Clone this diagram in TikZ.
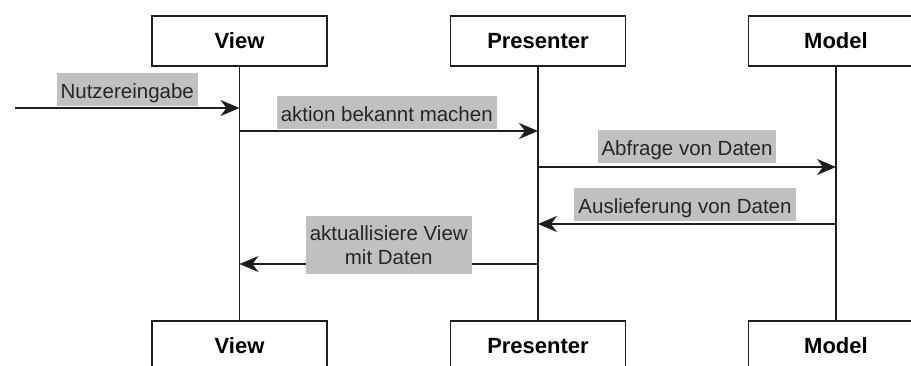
\documentclass[tikz,border=0pt]{standalone}
\usepackage{fontspec}
\setmainfont{Liberation Sans}
\usetikzlibrary{arrows.meta}
\definecolor{lblgray}{HTML}{C0C0C0}
\definecolor{txtgray}{HTML}{262626}
\definecolor{linecol}{HTML}{1E1E1E}
\begin{document}
\begin{tikzpicture}[x=1pt,y=-1pt,
  objbox/.style={draw=linecol, line width=1.5pt, fill=white, minimum width=175pt, minimum height=50pt, inner sep=0pt, font=\fontsize{22}{26}\selectfont\bfseries},
  lifeline/.style={line width=1.5pt, draw=linecol},
  msg/.style={line width=1.5pt, draw=linecol, -{Stealth[length=19pt,width=16pt,inset=6pt]}},
  lbl/.style={fill=lblgray, text=txtgray, inner xsep=4pt, inner ysep=4pt, text height=21pt, text depth=4pt, font=\fontsize{20.5}{24}\selectfont},
  lbltwo/.style={fill=lblgray, text=txtgray, inner xsep=4pt, inner ysep=9.5pt, align=center, font=\fontsize{20.5}{24}\selectfont}
]
\useasboundingbox (0,0) rectangle (911,365);
\clip (0,0) rectangle (911,365);
\fill[white] (0,0) rectangle (911,365);

\node[objbox] (viewT) at (239.5,41) {View};
\node[objbox] (presT) at (538,41) {Presenter};
\node[objbox] (modT)  at (836,41) {Model};
\node[objbox] (viewB) at (239.5,346) {View};
\node[objbox] (presB) at (538,346) {Presenter};
\node[objbox] (modB)  at (836,346) {Model};

\draw[lifeline] (viewT.south) -- (viewB.north);
\draw[lifeline] (presT.south) -- (presB.north);
\draw[lifeline] (modT.south) -- (modB.north);

\coordinate (start) at (15,108);
\coordinate (v1) at (viewT.south |- 0,108);
\coordinate (v2) at (viewT.south |- 0,131);
\coordinate (p2) at (presT.south |- 0,131);
\coordinate (p3) at (presT.south |- 0,167);
\coordinate (m3) at (modT.south |- 0,167);
\coordinate (m4) at (modT.south |- 0,224);
\coordinate (p4) at (presT.south |- 0,224);
\coordinate (p5) at (presT.south |- 0,264);
\coordinate (v5) at (viewT.south |- 0,264);

\draw[msg] (start) -- (v1) node[lbl, midway, above=1pt] (l1) {Nutzereingabe};
\draw[msg] (v2) -- (p2) node[lbl, midway, above=1pt, xshift=-2pt] (l2) {aktion bekannt machen};
\draw[msg] (p3) -- (m3) node[lbl, midway, above=3pt] (l3) {Abfrage von Daten};
\draw[msg] (m4) -- (p4) node[lbl, midway, above=2pt, xshift=-2pt] (l4) {Auslieferung von Daten};
\draw[msg] (p5) -- (v5) node[lbltwo, midway, yshift=19pt] (l5) {aktuallisiere View\\mit Daten};
\end{tikzpicture}
\end{document}
